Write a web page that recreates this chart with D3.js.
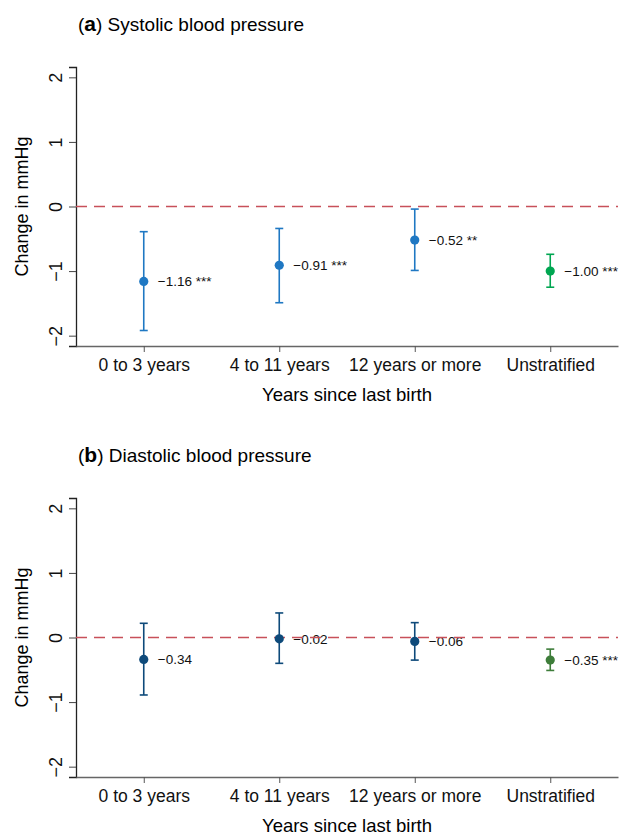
<!DOCTYPE html>
<html>
<head>
<meta charset="utf-8">
<script src="https://cdn.jsdelivr.net/npm/d3@7"></script>
<style>
  body { margin: 0; background: #fff; }
  svg { font-family: 'Liberation Sans', Arial, Helvetica, sans-serif; }
</style>
</head>
<body>
<div id="chart"></div>
<script>
// data
const categories = ['0 to 3 years', '4 to 11 years', '12 years or more', 'Unstratified']
const yTicks = [-2, -1, 0, 1, 2]

const sbpEst = [-1.16, -0.91, -0.52, -1.00]
const sbpLow = [-1.92, -1.49, -0.99, -1.25]
const sbpHigh = [-0.39, -0.34, -0.04, -0.74]
const sbpStars = ['***', '***', '**', '***']

const dbpEst = [-0.34, -0.02, -0.06, -0.35]
const dbpLow = [-0.89, -0.40, -0.35, -0.51]
const dbpHigh = [0.22, 0.38, 0.23, -0.18]
const dbpStars = ['', '', '', '***']

const panels = [
  { letter: 'a', title: 'Systolic blood pressure', est: sbpEst, low: sbpLow, high: sbpHigh, stars: sbpStars,
    colors: ['#1f78c3', '#1f78c3', '#1f78c3', '#00a651'], top: 67 },
  { letter: 'b', title: 'Diastolic blood pressure', est: dbpEst, low: dbpLow, high: dbpHigh, stars: dbpStars,
    colors: ['#0e4a7a', '#0e4a7a', '#0e4a7a', '#3e7d3a'], top: 498 }
]

const W = 619, H = 836
const left = 76, right = 618, plotH = 279

const svg = d3.select('#chart')
  .append('svg')
  .attr('width', W)
  .attr('height', H)

const x = d3.scalePoint()
  .domain(categories)
  .range([left, right])
  .padding(0.5)

const fmt = v => (v < 0 ? '\u2212' : '') + Math.abs(v).toFixed(2)

panels.forEach(p => {
  const y = d3.scaleLinear()
    .domain([-2.16, 2.16])
    .range([p.top + plotH, p.top])

  const g = svg.append('g')

  // title
  const title = g.append('text')
    .attr('x', 78)
    .attr('y', p.top - 36)
    .style('font-size', '19px')
  title.append('tspan').text('(')
  title.append('tspan').attr('font-weight', 'bold').style('font-size', '21px').text(p.letter)
  title.append('tspan').text(') ' + p.title)

  // y axis
  const yAxis = g.append('g')
    .attr('transform', 'translate(' + left + ',0)')
    .call(d3.axisLeft(y).tickValues(yTicks).tickFormat(d3.format('d')).tickSize(7).tickPadding(8))
  yAxis.select('.domain').attr('stroke', '#222').attr('stroke-width', 1.3)
  yAxis.selectAll('.tick line').attr('stroke', '#444')
  yAxis.selectAll('.tick text')
    .attr('x', 0)
    .attr('dy', 0)
    .attr('transform', 'translate(-14,0) rotate(-90)')
    .style('text-anchor', 'middle')
    .style('font-size', '18px')
    .attr('fill', '#111')

  g.append('text')
    .attr('transform', 'rotate(-90)')
    .attr('x', -(p.top + plotH / 2))
    .attr('y', 28)
    .style('text-anchor', 'middle')
    .style('font-size', '18px')
    .text('Change in mmHg')

  // x axis
  const xAxis = g.append('g')
    .attr('transform', 'translate(0,' + (p.top + plotH) + ')')
    .call(d3.axisBottom(x).tickSize(6).tickPadding(7).tickSizeOuter(0))
  xAxis.select('.domain').attr('stroke', '#666').attr('stroke-width', 1.3)
  xAxis.selectAll('.tick line').attr('stroke', '#555')
  xAxis.selectAll('.tick text')
    .style('font-size', '17.5px')
    .attr('fill', '#111')

  g.append('text')
    .attr('x', (left + right) / 2)
    .attr('y', p.top + plotH + 55)
    .style('text-anchor', 'middle')
    .style('font-size', '18.5px')
    .text('Years since last birth')

  // value labels
  g.selectAll('.val')
    .data(categories)
    .enter()
    .append('text')
    .attr('x', d => x(d) + 14)
    .attr('y', (d, i) => y(p.est[i]))
    .attr('dy', '0.35em')
    .style('font-size', '13.5px')
    .attr('fill', '#111')
    .text((d, i) => fmt(p.est[i]) + (p.stars[i] ? ' ' + p.stars[i] : ''))

  // zero reference line
  g.append('line')
    .attr('x1', left)
    .attr('x2', right)
    .attr('y1', y(0))
    .attr('y2', y(0))
    .attr('stroke', '#c8505a')
    .attr('stroke-width', 1.3)
    .attr('stroke-dasharray', '11,7')

  // error bars
  const bars = g.selectAll('.bar')
    .data(categories)
    .enter()
    .append('g')
    .attr('stroke', (d, i) => p.colors[i])
    .attr('stroke-width', 1.6)

  bars.append('line')
    .attr('x1', d => x(d))
    .attr('x2', d => x(d))
    .attr('y1', (d, i) => y(p.low[i]))
    .attr('y2', (d, i) => y(p.high[i]))
  bars.append('line')
    .attr('x1', d => x(d) - 4)
    .attr('x2', d => x(d) + 4)
    .attr('y1', (d, i) => y(p.low[i]))
    .attr('y2', (d, i) => y(p.low[i]))
  bars.append('line')
    .attr('x1', d => x(d) - 4)
    .attr('x2', d => x(d) + 4)
    .attr('y1', (d, i) => y(p.high[i]))
    .attr('y2', (d, i) => y(p.high[i]))

  // points
  g.selectAll('.pt')
    .data(categories)
    .enter()
    .append('circle')
    .attr('cx', d => x(d))
    .attr('cy', (d, i) => y(p.est[i]))
    .attr('r', 4.6)
    .attr('fill', (d, i) => p.colors[i])
})
</script>
</body>
</html>
